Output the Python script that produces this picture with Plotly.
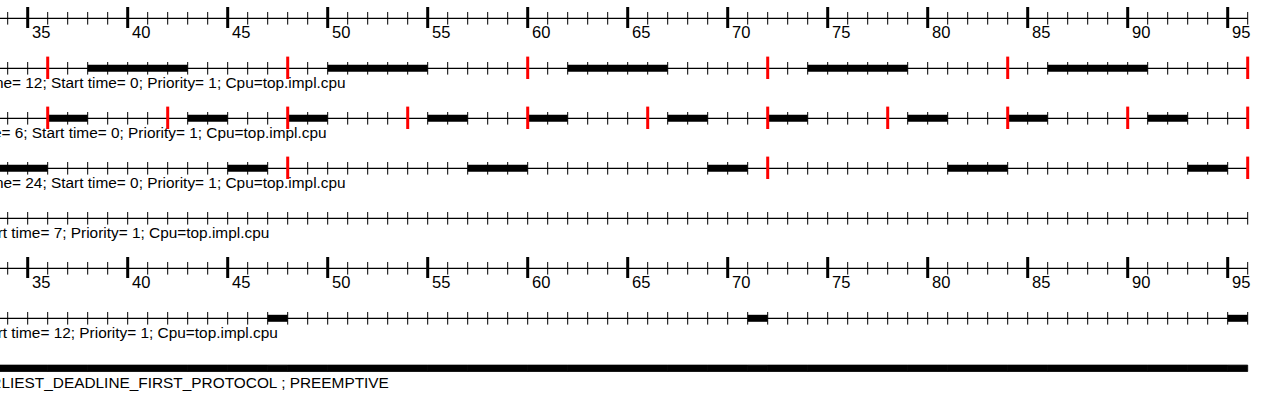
import plotly.graph_objects as go

# ---------------- data (time units) ----------------
axis_labels = [35, 40, 45, 50, 55, 60, 65, 70, 75, 80, 85, 90, 95]
timeline_end = 96

task1_start = [38, 50, 62, 74, 86]
task1_end = [43, 55, 67, 79, 91]
task1_release = [36, 48, 60, 72, 84, 96]
task1_text = "task1 : Period= 12; Capacity= 5; Deadline= 12; Start time= 0; Priority= 1; Cpu=top.impl.cpu"

task2_start = [36, 43, 48, 55, 60, 67, 72, 79, 84, 91]
task2_end = [38, 45, 50, 57, 62, 69, 74, 81, 86, 93]
task2_release = [36, 42, 48, 54, 60, 66, 72, 78, 84, 90, 96]
task2_text = "task2 : Period= 6; Capacity= 2; Deadline= 6; Start time= 0; Priority= 1; Cpu=top.impl.cpu"

task3_start = [33, 45, 57, 69, 81, 93]
task3_end = [36, 47, 60, 71, 84, 95]
task3_release = [48, 72, 96]
task3_text = "task3 : Period= 24; Capacity= 5; Deadline= 24; Start time= 0; Priority= 1; Cpu=top.impl.cpu"

task4_start = []
task4_end = []
task4_release = []
task4_text = "task4 : Capacity= 1; Deadline= 10; Start time= 7; Priority= 1; Cpu=top.impl.cpu"

task5_start = [47, 71, 95]
task5_end = [48, 72, 96]
task5_release = []
task5_text = "task5 : Capacity= 1; Deadline= 10; Start time= 12; Priority= 1; Cpu=top.impl.cpu"

processor_text = "top.impl.cpu : EARLIEST_DEADLINE_FIRST_PROTOCOL ; PREEMPTIVE"

# ---------------- layout helpers ----------------
W, H = 1274, 410
X0 = 33.615                      # time at the left edge of the window
PX_PER_UNIT = 20.0
X1 = X0 + W / PX_PER_UNIT
FONT = "Liberation Sans, Arial, sans-serif"

row_axis_top = 18.3
row_y = [68.3, 118.3, 168.3, 218.3]
row_axis_mid = 268.3
row_task5 = 318.3
row_proc = 368.3

# text end pixel (right edge) for each description line
text_end_px = [347, 328, 347, 270, 279, 390]

fig = go.Figure()

tasks = [
    (task1_start, task1_end, task1_release, task1_text, row_y[0]),
    (task2_start, task2_end, task2_release, task2_text, row_y[1]),
    (task3_start, task3_end, task3_release, task3_text, row_y[2]),
    (task4_start, task4_end, task4_release, task4_text, row_y[3]),
    (task5_start, task5_end, task5_release, task5_text, row_task5),
]

# ----- bars (drawn first so ticks sit over them) -----
all_start, all_end = [], []
for st, en, rel, txt, y in tasks:
    all_start += st
    all_end += en
    if st:
        fig.add_trace(go.Bar(
            orientation="h", base=st, x=[e - s for s, e in zip(st, en)],
            y=[y] * len(st), width=7, marker=dict(color="black", line=dict(width=0)),
            hoverinfo="skip", showlegend=False))

# processor busy segments = union of task executions
fig.add_trace(go.Bar(
    orientation="h", base=all_start, x=[e - s for s, e in zip(all_start, all_end)],
    y=[row_proc] * len(all_start), width=6.4,
    marker=dict(color="black", line=dict(width=0.8, color="black")),
    hoverinfo="skip", showlegend=False))

# ----- horizontal timelines -----
ticks_minor = list(range(0, timeline_end + 1))
timeline_rows = [row_axis_top] + row_y + [row_axis_mid, row_task5]
for y in timeline_rows:
    fig.add_trace(go.Scatter(
        x=[0, timeline_end], y=[y, y], mode="lines",
        line=dict(color="black", width=1.3), hoverinfo="skip", showlegend=False))
    fig.add_trace(go.Scatter(
        x=ticks_minor, y=[y] * len(ticks_minor), mode="markers",
        marker=dict(symbol="line-ns", size=9, line=dict(color="black", width=1)),
        hoverinfo="skip", showlegend=False))

# ----- major ticks and labels on the two time axes -----
for y in [row_axis_top, row_axis_mid]:
    fig.add_trace(go.Scatter(
        x=axis_labels, y=[y - 0.8] * len(axis_labels), mode="markers",
        marker=dict(symbol="line-ns", size=15, line=dict(color="black", width=3)),
        hoverinfo="skip", showlegend=False))

annotations = []
for y in [row_axis_top, row_axis_mid]:
    for t in axis_labels:
        annotations.append(dict(
            x=t, y=y + 14, xref="x", yref="y", text=str(t), showarrow=False,
            xanchor="left", yanchor="middle", xshift=3, borderpad=0,
            font=dict(family=FONT, size=16.5, color="black")))

# ----- release marks (red) -----
for st, en, rel, txt, y in tasks:
    if rel:
        fig.add_trace(go.Scatter(
            x=rel, y=[y - 0.5] * len(rel), mode="markers",
            marker=dict(symbol="line-ns", size=16, line=dict(color="#ff0000", width=3)),
            hoverinfo="skip", showlegend=False))

# ----- description texts -----
texts = [t[3] for t in tasks] + [processor_text]
text_rows = [t[4] for t in tasks] + [row_proc]
for txt, y, px in zip(texts, text_rows, text_end_px):
    annotations.append(dict(
        x=px / W, y=y + 14, xref="paper", yref="y", text=txt, showarrow=False,
        xanchor="right", yanchor="middle", borderpad=0,
        font=dict(family=FONT, size=15.4, color="black")))

fig.update_layout(
    width=W, height=H, margin=dict(l=0, r=0, t=0, b=0),
    paper_bgcolor="white", plot_bgcolor="white",
    barmode="overlay", showlegend=False,
    xaxis=dict(range=[X0, X1], visible=False, fixedrange=True),
    yaxis=dict(range=[H, 0], visible=False, fixedrange=True),
    annotations=annotations,
)

fig.write_html(
    "out.html",
    config={"displayModeBar": False},
    post_script="document.body.style.margin='0';document.body.style.overflow='hidden';",
)
